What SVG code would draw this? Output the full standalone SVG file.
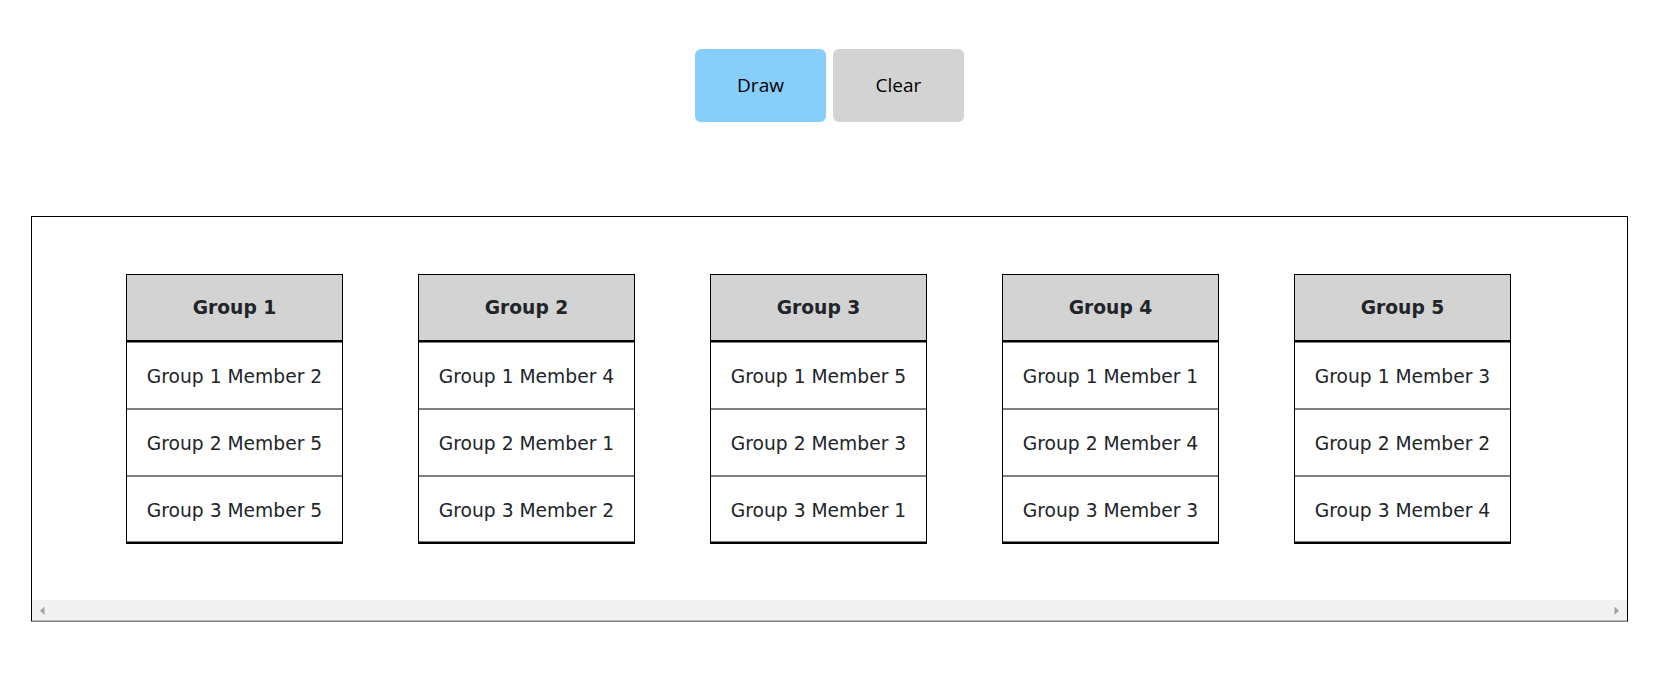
<svg xmlns="http://www.w3.org/2000/svg" width="1673" height="697" viewBox="0 0 1673 697">
<style>
.btn-t{font-family:"Open Sans","DejaVu Sans",sans-serif;font-size:19px;fill:#000;text-anchor:middle}
.tbl{fill:#fff;stroke:#000;stroke-width:1}
.hd{fill:#d3d3d3}
.ln{stroke:#000;stroke-width:1}
.thick{stroke:#000;stroke-width:2.5}
.ht{font-family:"DejaVu Sans",Verdana,sans-serif;font-size:18.7px;font-weight:bold;fill:#212529;text-anchor:middle}
.rt{font-family:"DejaVu Sans",Verdana,sans-serif;font-size:18.7px;fill:#212529;text-anchor:middle}
</style>
<rect width="1673" height="697" fill="#fff"/>
<g id="btn-draw">
<rect x="695" y="49" width="131" height="73" rx="6" fill="#87cefa"/>
<text class="btn-t" x="760.5" y="92">Draw</text>
</g>
<g id="btn-clear">
<rect x="833" y="49" width="131" height="73" rx="6" fill="#d3d3d3"/>
<text class="btn-t" x="898.5" y="92">Clear</text>
</g>
<g id="container">
<rect x="31.5" y="216.5" width="1596" height="404.5" fill="#fff" stroke="#000" stroke-width="1"/>
<rect x="32" y="600" width="1595" height="20.5" fill="#f1f1f1"/>
<path d="M40 610.7 L44.5 606.5 L44.5 615 Z" fill="#a3a3a3"/>
<path d="M1619 610.7 L1614.5 606.5 L1614.5 615 Z" fill="#a3a3a3"/>
</g>
<g id="connectors"></g>
<g id="group1" transform="translate(126.5,0)">
<rect class="tbl" x="0" y="274.5" width="216" height="268"/>
<rect class="hd" x="0.5" y="275" width="215" height="66"/>
<line class="thick" x1="0" y1="341.3" x2="216" y2="341.3"/>
<line class="ln" x1="0" y1="409" x2="216" y2="409"/>
<line class="ln" x1="0" y1="476" x2="216" y2="476"/>
<line class="thick" x1="-0.5" y1="542.7" x2="216.5" y2="542.7"/>
<text class="ht" x="108" y="314.3">Group 1</text>
<text class="rt" x="108" y="383.3">Group 1 Member 2</text>
<text class="rt" x="108" y="450">Group 2 Member 5</text>
<text class="rt" x="108" y="516.7">Group 3 Member 5</text>
</g>
<g id="group2" transform="translate(418.5,0)">
<rect class="tbl" x="0" y="274.5" width="216" height="268"/>
<rect class="hd" x="0.5" y="275" width="215" height="66"/>
<line class="thick" x1="0" y1="341.3" x2="216" y2="341.3"/>
<line class="ln" x1="0" y1="409" x2="216" y2="409"/>
<line class="ln" x1="0" y1="476" x2="216" y2="476"/>
<line class="thick" x1="-0.5" y1="542.7" x2="216.5" y2="542.7"/>
<text class="ht" x="108" y="314.3">Group 2</text>
<text class="rt" x="108" y="383.3">Group 1 Member 4</text>
<text class="rt" x="108" y="450">Group 2 Member 1</text>
<text class="rt" x="108" y="516.7">Group 3 Member 2</text>
</g>
<g id="group3" transform="translate(710.5,0)">
<rect class="tbl" x="0" y="274.5" width="216" height="268"/>
<rect class="hd" x="0.5" y="275" width="215" height="66"/>
<line class="thick" x1="0" y1="341.3" x2="216" y2="341.3"/>
<line class="ln" x1="0" y1="409" x2="216" y2="409"/>
<line class="ln" x1="0" y1="476" x2="216" y2="476"/>
<line class="thick" x1="-0.5" y1="542.7" x2="216.5" y2="542.7"/>
<text class="ht" x="108" y="314.3">Group 3</text>
<text class="rt" x="108" y="383.3">Group 1 Member 5</text>
<text class="rt" x="108" y="450">Group 2 Member 3</text>
<text class="rt" x="108" y="516.7">Group 3 Member 1</text>
</g>
<g id="group4" transform="translate(1002.5,0)">
<rect class="tbl" x="0" y="274.5" width="216" height="268"/>
<rect class="hd" x="0.5" y="275" width="215" height="66"/>
<line class="thick" x1="0" y1="341.3" x2="216" y2="341.3"/>
<line class="ln" x1="0" y1="409" x2="216" y2="409"/>
<line class="ln" x1="0" y1="476" x2="216" y2="476"/>
<line class="thick" x1="-0.5" y1="542.7" x2="216.5" y2="542.7"/>
<text class="ht" x="108" y="314.3">Group 4</text>
<text class="rt" x="108" y="383.3">Group 1 Member 1</text>
<text class="rt" x="108" y="450">Group 2 Member 4</text>
<text class="rt" x="108" y="516.7">Group 3 Member 3</text>
</g>
<g id="group5" transform="translate(1294.5,0)">
<rect class="tbl" x="0" y="274.5" width="216" height="268"/>
<rect class="hd" x="0.5" y="275" width="215" height="66"/>
<line class="thick" x1="0" y1="341.3" x2="216" y2="341.3"/>
<line class="ln" x1="0" y1="409" x2="216" y2="409"/>
<line class="ln" x1="0" y1="476" x2="216" y2="476"/>
<line class="thick" x1="-0.5" y1="542.7" x2="216.5" y2="542.7"/>
<text class="ht" x="108" y="314.3">Group 5</text>
<text class="rt" x="108" y="383.3">Group 1 Member 3</text>
<text class="rt" x="108" y="450">Group 2 Member 2</text>
<text class="rt" x="108" y="516.7">Group 3 Member 4</text>
</g>
</svg>
